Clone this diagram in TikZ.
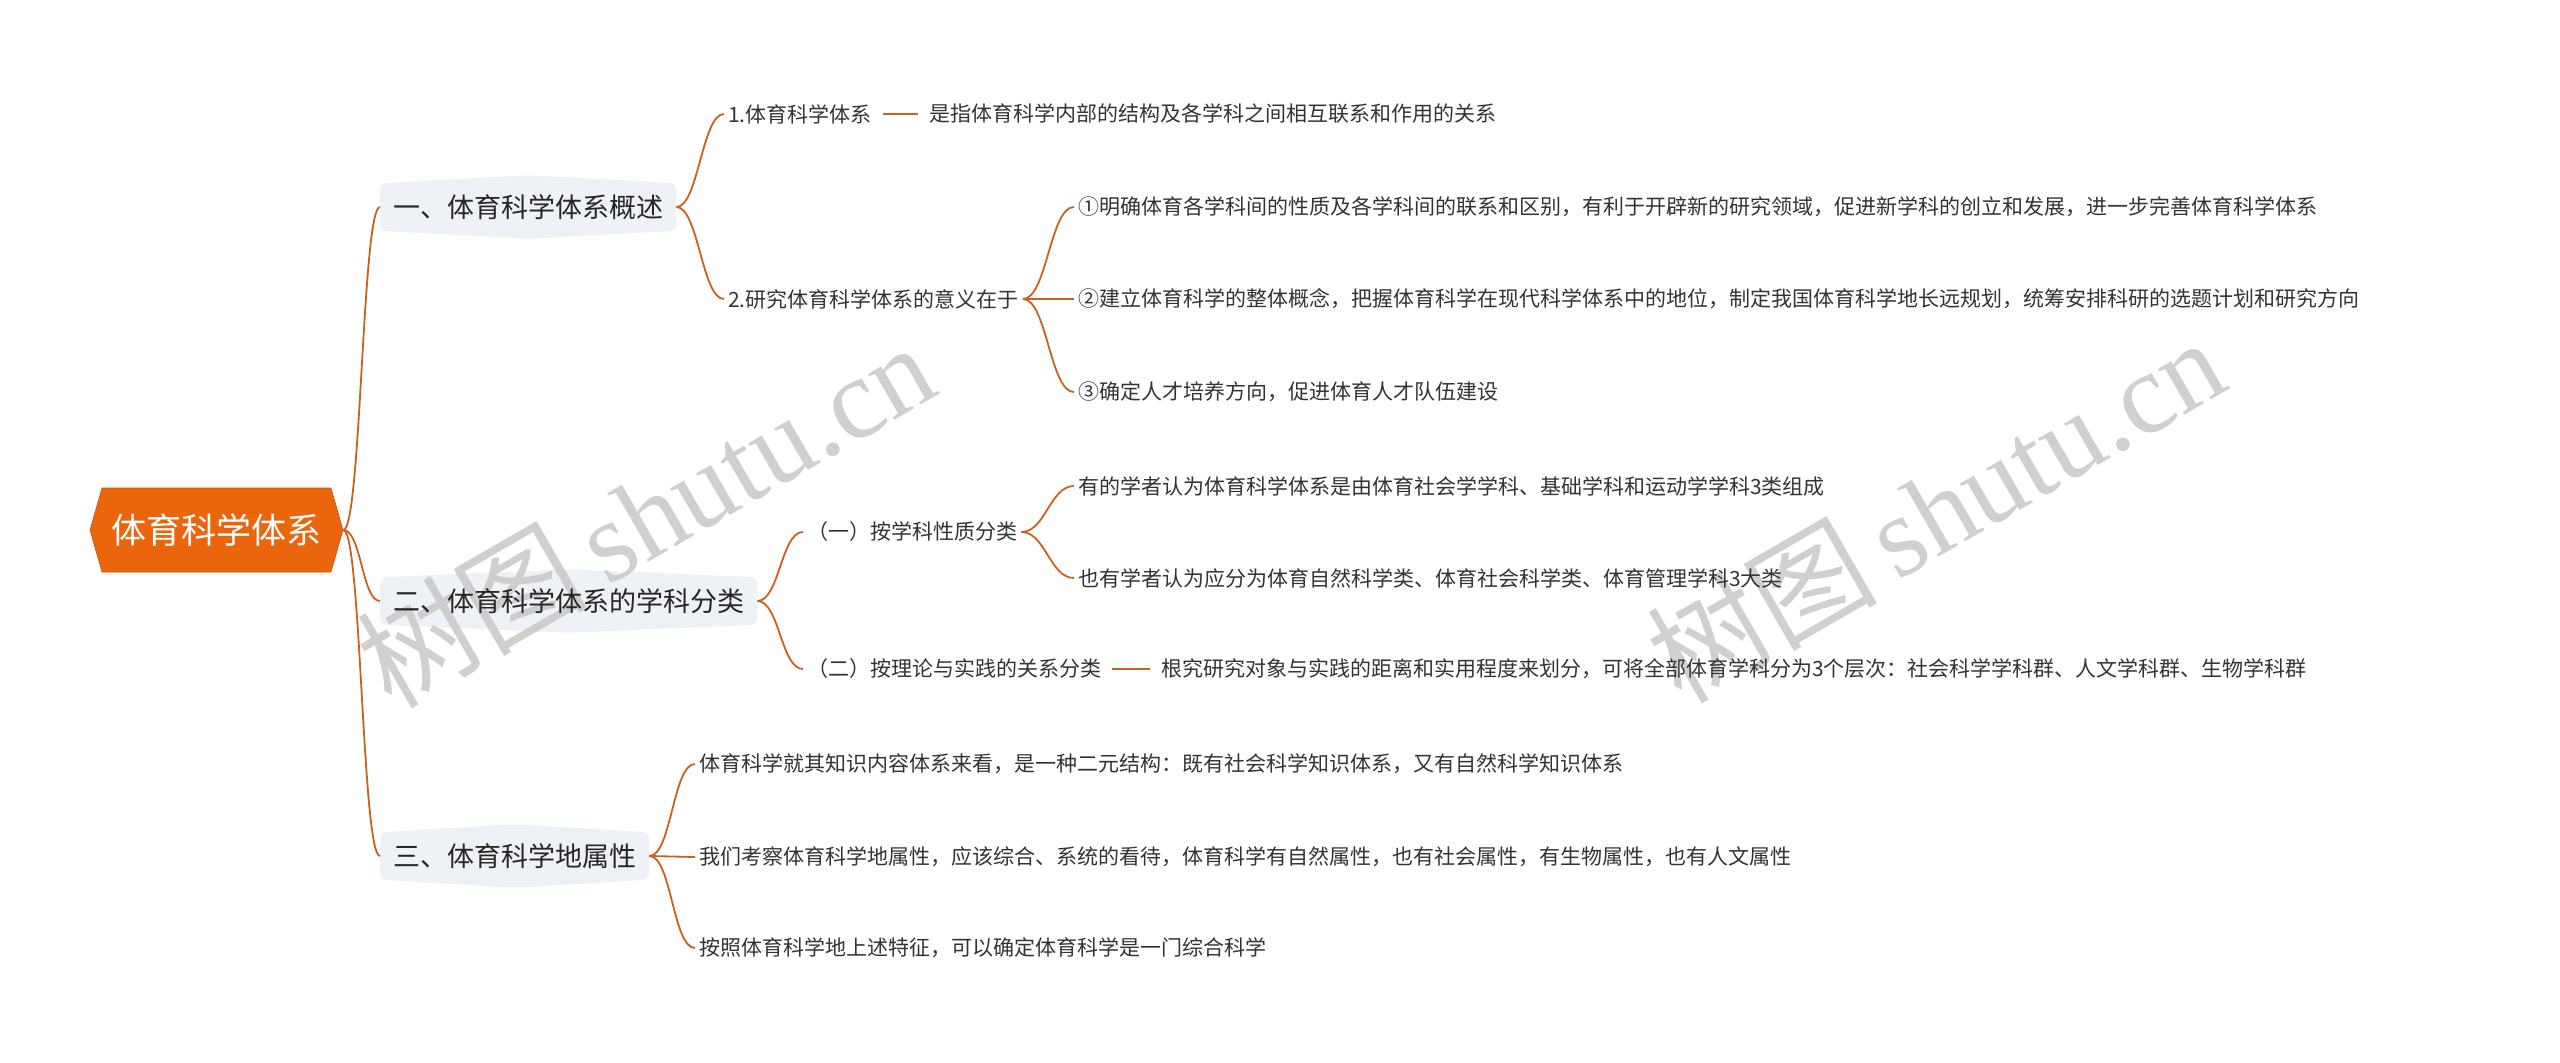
\documentclass[tikz,border=0pt]{standalone}
\usepackage{fontspec}
\setmainfont{Noto Sans CJK SC}
\newfontfamily\cjkfont{Noto Sans CJK SC}
\newfontfamily\wmlatin{Liberation Serif}
\usetikzlibrary{shapes.symbols,backgrounds}
\definecolor{linec}{RGB}{201,98,28}
\definecolor{rootfill}{RGB}{235,101,12}
\definecolor{lonefill}{HTML}{EEF1F5}
\definecolor{txt}{HTML}{333333}
\definecolor{wmcol}{RGB}{200,200,200}
\begin{document}
\begin{tikzpicture}[x=1pt,y=-1pt,
  connector/.style={draw=linec, line width=1.8pt},
  rootnode/.style={signal, signal to=west and east, signal pointer angle=148,
    fill=rootfill, draw=rootfill!85!black, line width=0.6pt,
    minimum width=253pt, minimum height=84pt, inner sep=0pt,
    font=\fontsize{35}{40}\selectfont, text=white},
  lone/.style={inner xsep=13pt, inner ysep=0pt, minimum height=47pt,
    font=\fontsize{27}{32}\selectfont, text=black!85, anchor=west},
  ltext/.style={inner xsep=4pt, inner ysep=2pt,
    font=\fontsize{21}{25}\selectfont, text=txt, anchor=west},
  wmark/.style={text=wmcol, font=\fontsize{115}{120}\selectfont, rotate=30, opacity=0.85}]
\useasboundingbox (0,0) rectangle (2560,1063);

% watermarks
\node[wmark] (wm1) at (645,514) {\cjkfont 树图\,\wmlatin shutu.cn};
\node[wmark] (wm2) at (1935,509) {\cjkfont 树图\,\wmlatin shutu.cn};

% root
\node[rootnode] (root) at (216.5,530) {体育科学体系};

% level 1
\node[lone] (a) at (380,207) {一、体育科学体系概述};
\node[lone] (b) at (380,601) {二、体育科学体系的学科分类};
\node[lone] (c) at (380,856) {三、体育科学地属性};
\begin{scope}[on background layer]
\fill[white] (0,0) rectangle (2560,1063);
\foreach \n in {a,b,c}{
  \fill[lonefill, rounded corners=7pt] (\n.south west) -- (\n.north west)
    -- ([yshift=8pt]\n.north) -- (\n.north east) -- (\n.south east)
    -- ([yshift=-8pt]\n.south) -- cycle;
}
\end{scope}

% level 2 / 3
\node[ltext] (a1) at (724,114) {1.体育科学体系};
\node[ltext] (a1d) at (925,114) {是指体育科学内部的结构及各学科之间相互联系和作用的关系};
\node[ltext] (a2) at (724,299) {2.研究体育科学体系的意义在于};
\node[ltext] (a21) at (1074,207) {①明确体育各学科间的性质及各学科间的联系和区别，有利于开辟新的研究领域，促进新学科的创立和发展，进一步完善体育科学体系};
\node[ltext] (a22) at (1074,299) {②建立体育科学的整体概念，把握体育科学在现代科学体系中的地位，制定我国体育科学地长远规划，统筹安排科研的选题计划和研究方向};
\node[ltext] (a23) at (1074,392) {③确定人才培养方向，促进体育人才队伍建设};

\node[ltext] (b1) at (803,532) {（一）按学科性质分类};
\node[ltext] (b11) at (1074,486) {有的学者认为体育科学体系是由体育社会学学科、基础学科和运动学学科3类组成};
\node[ltext] (b12) at (1074,578) {也有学者认为应分为体育自然科学类、体育社会科学类、体育管理学科3大类};
\node[ltext] (b2) at (803,669) {（二）按理论与实践的关系分类};
\node[ltext] (b2d) at (1157,669) {根究研究对象与实践的距离和实用程度来划分，可将全部体育学科分为3个层次：社会科学学科群、人文学科群、生物学科群};

\node[ltext] (c1) at (695,764) {体育科学就其知识内容体系来看，是一种二元结构：既有社会科学知识体系，又有自然科学知识体系};
\node[ltext] (c2) at (695,857) {我们考察体育科学地属性，应该综合、系统的看待，体育科学有自然属性，也有社会属性，有生物属性，也有人文属性};
\node[ltext] (c3) at (695,948) {按照体育科学地上述特征，可以确定体育科学是一门综合科学};

% connectors
\foreach \t in {a,b,c}{
  \draw[connector] (root.east) .. controls +(18,0) and +(-18,0) .. (\t.west);
}
\foreach \t in {a1,a2}{
  \draw[connector] (a.east) .. controls +(22,0) and +(-22,0) .. (\t.west);
}
\draw[connector, shorten <=7pt, shorten >=7pt] (a1.east) -- (a1d.west);
\foreach \t in {a21,a23}{
  \draw[connector] (a2.east) .. controls +(24,0) and +(-24,0) .. (\t.west);
}
\draw[connector] (a2.east) -- (a22.west);
\foreach \t in {b1,b2}{
  \draw[connector] (b.east) .. controls +(22,0) and +(-22,0) .. (\t.west);
}
\foreach \t in {b11,b12}{
  \draw[connector] (b1.east) .. controls +(24,0) and +(-24,0) .. (\t.west);
}
\draw[connector, shorten <=7pt, shorten >=7pt] (b2.east) -- (b2d.west);
\foreach \t in {c1,c3}{
  \draw[connector] (c.east) .. controls +(22,0) and +(-22,0) .. (\t.west);
}
\draw[connector] (c.east) -- (c2.west);
\end{tikzpicture}
\end{document}
